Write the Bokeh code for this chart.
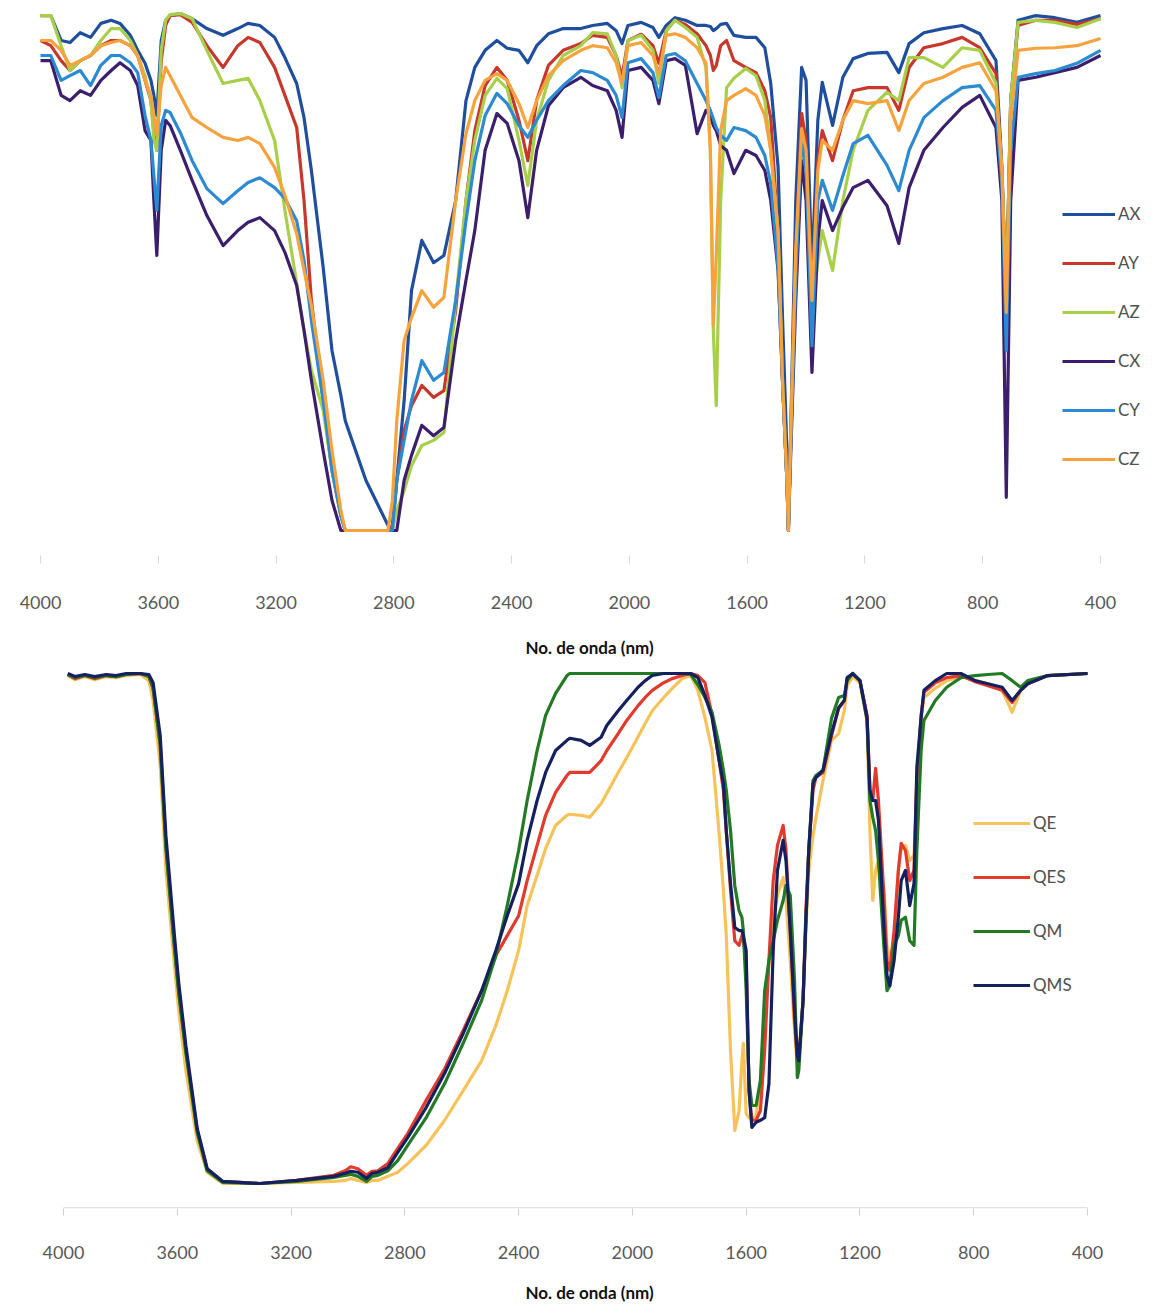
from bokeh.plotting import figure
from bokeh.layouts import column
from bokeh.models import Range1d, FixedTicker, Legend, LegendItem
from bokeh.embed import file_html
from bokeh.resources import INLINE

# ---------------- data: top panel (wavenumber, transmittance %) ----------------
top_wn = [4000, 3965, 3930, 3900, 3865, 3830, 3795, 3760, 3730, 3695,
          3670, 3645, 3625, 3615, 3605, 3590, 3575, 3560, 3525, 3485,
          3435, 3380, 3330, 3295, 3255, 3205, 3170, 3130, 3105, 3080,
          3040, 3010, 2980, 2965, 2895, 2820, 2805, 2790, 2765, 2740,
          2705, 2665, 2630, 2590, 2555, 2525, 2490, 2450, 2415, 2375,
          2345, 2315, 2275, 2225, 2165, 2125, 2075, 2045, 2025, 2005,
          1960, 1920, 1900, 1875, 1845, 1810, 1770, 1740, 1725, 1715,
          1705, 1690, 1670, 1645, 1605, 1570, 1540, 1520, 1495, 1480,
          1465, 1460, 1455, 1435, 1415, 1400, 1380, 1360, 1345, 1310,
          1275, 1240, 1190, 1125, 1085, 1050, 1000, 935, 870, 810,
          755, 735, 720, 705, 680, 620, 555, 480, 400]

AX = [99.4, 99.4, 94.6, 94.2, 96.1, 95.2, 97.9, 98.5, 97.9, 95.6,
      92.7, 90.2, 86.9, 84.0, 80.1, 94.6, 98.5, 99.4, 99.8, 98.8,
      96.9, 95.6, 96.9, 97.9, 97.5, 95.2, 91.3, 86.3, 79.7, 69.5,
      50.8, 34.7, 26.1, 21.2, 9.7, 1.0, 0.0, 9.7, 25.1, 46.3,
      56.0, 51.7, 53.1, 63.7, 83.0, 89.4, 92.7, 94.6, 93.1, 92.7,
      90.3, 93.6, 95.9, 96.9, 96.9, 97.5, 97.9, 96.5, 94.0, 97.5,
      98.1, 97.1, 95.2, 97.5, 99.0, 98.5, 97.5, 97.5, 97.3, 96.5,
      96.9, 97.7, 97.9, 95.6, 95.2, 95.2, 93.2, 86.3, 70.1, 41.1,
      15.4, 0.4, 11.6, 63.7, 89.4, 86.9, 50.2, 79.2, 86.5, 78.2,
      87.5, 91.1, 92.1, 92.3, 88.4, 94.0, 96.1, 96.9, 97.5, 95.9,
      90.7, 70.1, 44.4, 83.0, 98.5, 99.4, 99.0, 98.1, 99.4]

AY = [94.6, 93.6, 90.7, 88.8, 90.7, 91.7, 93.6, 94.6, 94.6, 93.6,
      91.7, 86.9, 83.0, 77.2, 73.4, 90.7, 97.5, 99.4, 99.6, 98.1,
      93.6, 89.4, 93.6, 95.2, 94.2, 89.4, 84.0, 77.8, 63.7, 44.4,
      25.1, 11.6, 2.9, 0.0, 0.0, 0.0, 1.0, 9.7, 19.3, 24.1,
      28.0, 25.7, 27.0, 42.5, 63.7, 77.2, 85.9, 89.4, 86.9, 79.2,
      71.4, 83.0, 89.8, 92.7, 94.0, 95.6, 95.2, 91.7, 87.5, 94.6,
      95.8, 93.6, 90.2, 96.5, 98.5, 97.7, 95.9, 93.6, 91.7, 88.8,
      89.8, 93.6, 94.6, 90.7, 89.4, 88.4, 84.9, 79.7, 57.3, 29.0,
      9.7, 0.0, 11.6, 54.1, 80.5, 75.3, 44.4, 71.4, 77.2, 71.4,
      79.2, 84.9, 85.5, 85.5, 81.1, 89.4, 93.2, 94.0, 95.2, 93.2,
      88.2, 69.5, 44.4, 83.0, 97.5, 98.5, 98.5, 97.7, 98.8]

AZ = [99.4, 99.4, 93.6, 88.8, 90.7, 91.7, 94.6, 96.9, 96.9, 94.6,
      91.7, 87.8, 83.0, 75.3, 73.4, 92.7, 98.5, 99.6, 99.8, 98.8,
      92.7, 86.3, 86.9, 87.3, 83.0, 75.3, 61.8, 47.7, 38.6, 30.9,
      23.2, 11.6, 2.9, 0.0, 0.0, 0.0, 0.0, 3.9, 7.7, 12.5,
      16.4, 17.4, 18.9, 44.4, 63.7, 75.3, 84.0, 87.3, 85.3, 75.3,
      66.6, 79.2, 86.9, 91.7, 93.6, 96.1, 95.9, 91.7, 85.5, 94.6,
      95.6, 92.7, 86.3, 96.5, 98.5, 97.1, 95.2, 89.4, 73.4, 38.6,
      24.1, 63.7, 85.5, 87.3, 89.2, 87.8, 83.0, 73.4, 57.9, 29.0,
      9.7, 0.0, 11.6, 52.1, 75.3, 69.5, 40.5, 52.1, 57.9, 50.2,
      63.7, 73.4, 81.1, 84.6, 83.0, 91.3, 91.3, 89.4, 93.2, 92.7,
      86.3, 69.5, 44.4, 83.0, 98.1, 98.5, 98.1, 97.1, 98.8]

CX = [90.7, 90.7, 84.0, 83.0, 84.9, 84.0, 86.9, 88.8, 90.3, 88.8,
      85.9, 77.2, 75.3, 63.7, 53.1, 73.4, 79.2, 78.2, 73.4, 67.6,
      60.8, 55.0, 57.9, 59.5, 60.4, 57.9, 53.7, 47.3, 38.6, 29.0,
      15.4, 5.8, 0.0, 0.0, 0.0, 0.0, 0.0, 0.0, 9.7, 14.5,
      20.3, 18.3, 19.9, 36.7, 48.3, 57.9, 73.4, 80.5, 78.6, 71.4,
      60.4, 73.4, 82.0, 85.5, 87.5, 85.9, 84.9, 81.1, 75.9, 88.8,
      89.4, 86.9, 82.4, 90.7, 91.1, 89.8, 76.6, 81.1, 80.1, 78.2,
      77.2, 74.3, 73.4, 68.9, 73.4, 72.4, 69.5, 63.7, 50.2, 29.0,
      9.7, 0.0, 9.7, 44.4, 71.4, 63.7, 30.5, 56.0, 63.7, 57.9,
      62.4, 66.2, 67.6, 62.7, 55.4, 66.2, 73.4, 77.8, 81.7, 84.0,
      77.8, 63.7, 6.4, 63.7, 86.9, 87.5, 88.4, 89.4, 91.7]

CY = [91.7, 91.7, 86.9, 87.8, 88.8, 85.9, 89.8, 91.7, 91.7, 90.3,
      88.4, 80.1, 75.3, 68.5, 61.8, 78.2, 81.1, 80.7, 76.8, 71.4,
      66.0, 63.1, 65.6, 67.2, 68.1, 66.2, 64.1, 59.8, 52.1, 40.5,
      25.1, 11.6, 2.9, 0.0, 0.0, 0.0, 0.0, 9.7, 17.4, 25.1,
      32.8, 29.0, 30.5, 44.4, 59.8, 71.4, 80.1, 84.4, 82.4, 78.2,
      75.9, 79.2, 83.0, 85.9, 88.8, 88.4, 86.9, 84.0, 79.7, 90.3,
      91.1, 88.4, 83.6, 91.7, 92.1, 90.7, 86.3, 83.0, 81.1, 79.5,
      77.8, 76.3, 75.3, 77.8, 77.2, 75.9, 72.4, 67.0, 50.8, 29.0,
      9.7, 0.0, 11.6, 48.3, 76.3, 69.5, 35.7, 63.7, 67.6, 61.8,
      68.5, 74.7, 76.3, 70.5, 65.6, 73.4, 79.7, 83.0, 85.5, 85.9,
      81.1, 67.0, 34.7, 73.4, 87.5, 88.2, 88.8, 90.2, 92.7]

CZ = [94.6, 94.6, 92.7, 89.8, 90.7, 91.7, 93.6, 94.2, 94.6, 93.6,
      91.7, 86.9, 84.0, 80.1, 76.3, 85.9, 89.4, 87.8, 84.0, 79.7,
      77.8, 75.9, 75.3, 75.9, 74.7, 70.1, 64.7, 57.3, 50.2, 43.4,
      29.0, 15.4, 3.9, 0.0, 0.0, 0.0, 5.8, 21.2, 36.7, 41.1,
      46.3, 43.1, 45.0, 63.7, 76.6, 83.0, 86.9, 88.2, 86.9, 82.4,
      77.8, 83.0, 87.8, 90.7, 92.7, 93.6, 93.2, 90.3, 86.3, 93.6,
      94.2, 91.7, 88.2, 95.6, 95.9, 95.2, 93.2, 90.2, 73.4, 39.6,
      53.1, 77.2, 83.0, 84.0, 85.3, 84.0, 80.1, 73.4, 57.3, 29.0,
      9.7, 0.0, 11.6, 54.1, 77.6, 73.4, 44.4, 69.5, 75.3, 73.4,
      79.2, 83.0, 82.4, 83.0, 77.2, 83.0, 86.3, 87.5, 89.4, 90.3,
      84.9, 69.5, 42.1, 79.2, 92.7, 93.1, 93.2, 93.6, 95.0]

# ---------------- data: bottom panel ----------------
bot_wn = [3985, 3960, 3925, 3890, 3850, 3815, 3780, 3730, 3700, 3685,
          3660, 3640, 3610, 3595, 3570, 3530, 3495, 3440, 3310, 3180,
          3050, 3010, 2990, 2965, 2935, 2915, 2895, 2860, 2825, 2790,
          2725, 2660, 2595, 2530, 2480, 2440, 2400, 2370, 2335, 2305,
          2270, 2230, 2220, 2180, 2150, 2110, 2090, 2050, 2020, 1980,
          1955, 1930, 1890, 1860, 1825, 1795, 1770, 1745, 1720, 1695,
          1680, 1670, 1655, 1640, 1625, 1615, 1610, 1600, 1590, 1580,
          1565, 1550, 1535, 1520, 1505, 1490, 1470, 1460, 1445, 1430,
          1420, 1415, 1400, 1390, 1380, 1365, 1355, 1330, 1300, 1275,
          1255, 1245, 1225, 1200, 1175, 1165, 1155, 1145, 1135, 1115,
          1105, 1095, 1080, 1065, 1055, 1040, 1025, 1010, 1000, 985,
          975, 935, 895, 845, 795, 750, 700, 665, 635, 610,
          540, 400]

QE = [99.6, 98.8, 99.4, 98.8, 99.4, 99.2, 99.6, 99.8, 98.6, 94.7,
      82.0, 61.4, 42.7, 33.9, 22.2, 8.4, 2.2, 0.0, 0.0, 0.2,
      0.4, 0.6, 1.0, 0.6, 0.2, 0.6, 0.6, 1.4, 2.2, 3.9,
      7.5, 12.4, 18.2, 24.1, 31.0, 37.8, 45.7, 54.5, 60.4, 65.7,
      70.2, 72.2, 72.4, 72.2, 71.8, 74.5, 76.5, 80.6, 83.5, 87.6,
      90.2, 92.7, 95.3, 97.1, 99.0, 99.6, 96.7, 91.4, 84.9, 68.6,
      57.5, 48.6, 26.1, 10.4, 14.3, 24.1, 27.5, 13.7, 12.9, 12.7,
      13.3, 20.2, 32.0, 43.7, 51.6, 56.5, 60.0, 55.5, 43.7, 30.0,
      23.1, 24.1, 35.9, 49.6, 61.4, 68.2, 71.6, 79.0, 86.9, 88.2,
      92.7, 97.6, 99.4, 98.2, 90.8, 69.2, 55.5, 61.4, 63.3, 57.5,
      46.7, 43.7, 47.6, 61.4, 65.7, 66.3, 63.3, 64.3, 79.0, 90.8,
      95.3, 97.1, 98.6, 99.4, 98.6, 98.0, 96.7, 92.4, 96.7, 98.0,
      99.6, 100.0]

QES = [99.8, 99.0, 99.6, 99.0, 99.6, 99.4, 99.8, 100.0, 99.4, 97.1,
       85.9, 66.3, 46.7, 37.8, 26.1, 10.4, 2.9, 0.4, 0.0, 0.6,
       1.6, 2.5, 3.3, 2.9, 1.6, 2.4, 2.5, 3.9, 6.9, 9.8,
       16.3, 22.5, 30.0, 37.8, 44.7, 48.6, 52.5, 59.4, 66.3, 72.2,
       76.7, 80.0, 80.6, 80.6, 80.6, 82.9, 84.9, 88.2, 90.8, 93.7,
       95.3, 96.7, 98.2, 99.0, 99.6, 100.0, 99.6, 98.2, 91.8, 82.9,
       77.1, 69.2, 57.5, 47.6, 46.7, 48.6, 47.6, 43.7, 18.2, 12.4,
       12.4, 14.3, 26.1, 43.7, 59.4, 66.3, 70.2, 65.3, 49.6, 32.0,
       24.1, 24.5, 35.9, 53.5, 65.3, 77.1, 79.6, 80.6, 87.8, 93.1,
       94.7, 99.0, 100.0, 98.6, 91.8, 77.1, 75.1, 81.4, 75.1, 55.5,
       43.7, 41.8, 49.6, 61.4, 66.7, 65.3, 59.4, 61.4, 79.0, 91.8,
       96.3, 98.2, 99.2, 99.6, 98.4, 97.6, 96.7, 94.3, 96.7, 98.0,
       99.6, 100.0]

QM = [99.8, 99.2, 99.6, 99.2, 99.6, 99.4, 99.8, 100.0, 99.4, 97.1,
      85.9, 65.7, 46.1, 37.3, 25.7, 10.0, 2.5, 0.2, 0.0, 0.4,
      1.2, 1.6, 1.8, 1.4, 0.4, 1.4, 1.6, 2.5, 4.5, 7.5,
      12.9, 19.6, 27.5, 35.9, 44.7, 54.5, 65.3, 75.1, 84.9, 91.8,
      96.1, 99.6, 100.0, 100.0, 100.0, 100.0, 100.0, 100.0, 100.0, 100.0,
      100.0, 100.0, 100.0, 100.0, 100.0, 99.8, 97.8, 95.3, 92.4, 85.9,
      81.0, 77.1, 69.2, 58.4, 53.5, 52.2, 49.6, 37.8, 20.2, 15.3,
      15.3, 20.2, 37.8, 43.7, 47.6, 51.6, 55.5, 58.4, 56.5, 39.8,
      20.8, 22.2, 35.9, 51.6, 65.3, 79.0, 80.0, 81.0, 91.2, 95.3,
      95.7, 98.6, 100.0, 98.6, 90.8, 75.1, 71.8, 69.2, 63.3, 45.7,
      37.8, 38.8, 46.7, 48.6, 51.6, 52.2, 47.6, 46.7, 65.3, 84.9,
      90.8, 94.7, 97.3, 99.2, 99.6, 99.8, 100.0, 98.6, 97.3, 98.6,
      99.6, 100.0]

QMS = [100.0, 99.4, 99.8, 99.4, 99.8, 99.6, 100.0, 100.0, 99.8, 98.2,
       87.8, 68.2, 48.6, 39.4, 27.1, 10.8, 2.9, 0.4, 0.0, 0.6,
       1.4, 2.0, 2.4, 2.2, 1.0, 2.0, 2.2, 3.1, 6.1, 9.0,
       14.9, 21.6, 29.4, 37.8, 45.7, 52.5, 58.8, 67.3, 75.1, 80.6,
       84.9, 86.9, 87.3, 86.9, 85.9, 87.5, 89.8, 92.7, 94.7, 97.3,
       98.6, 99.6, 100.0, 100.0, 100.0, 100.0, 99.2, 95.7, 91.4, 82.9,
       78.4, 69.2, 58.8, 50.2, 49.6, 49.6, 48.6, 45.7, 18.2, 11.0,
       12.0, 12.4, 12.9, 19.6, 45.7, 61.4, 67.3, 63.3, 49.6, 33.9,
       25.1, 24.1, 35.9, 51.6, 65.3, 78.4, 79.6, 81.0, 88.2, 93.3,
       94.7, 99.2, 100.0, 98.6, 91.4, 77.1, 75.1, 75.1, 71.2, 49.6,
       40.8, 38.8, 43.7, 52.2, 59.4, 61.4, 54.5, 58.8, 81.6, 91.4,
       96.7, 98.6, 100.0, 100.0, 98.6, 98.0, 97.3, 94.7, 96.7, 98.0,
       99.6, 100.0]

tick_values = [4000, 3600, 3200, 2800, 2400, 2000, 1600, 1200, 800, 400]
x_title = "No. de onda (nm)"

top_names = ["AX", "AY", "AZ", "CX", "CY", "CZ"]
top_colors = ["#1F4E9E", "#C6382C", "#A8CF4A", "#3C1F6C", "#2C8AD2", "#F6A33E"]
bot_names = ["QE", "QES", "QM", "QMS"]
bot_colors = ["#F8C25A", "#E23A2C", "#237A24", "#15215E"]

FONT = "Lato"


def style_axis(p, tick_color, tick_out, standoff, title_standoff):
    ax = p.xaxis[0]
    ax.ticker = FixedTicker(ticks=tick_values)
    ax.axis_line_color = None
    ax.major_tick_line_color = tick_color
    ax.major_tick_in = 0
    ax.major_tick_out = tick_out
    ax.minor_tick_line_color = None
    ax.major_label_text_font = FONT
    ax.major_label_text_font_size = "18px"
    ax.major_label_text_color = "#595959"
    ax.major_label_standoff = standoff
    ax.axis_label = x_title
    ax.axis_label_text_font = FONT
    ax.axis_label_text_font_style = "bold"
    ax.axis_label_text_font_size = "17px"
    ax.axis_label_text_color = "#111111"
    ax.axis_label_standoff = title_standoff
    p.yaxis.visible = False
    p.xgrid.visible = False
    p.ygrid.visible = False
    p.outline_line_color = None


def make_legend(items, loc, spacing, glyph_width):
    lg = Legend(items=items, location=loc)
    lg.border_line_color = None
    lg.background_fill_alpha = 0
    lg.padding = 0
    lg.margin = 0
    lg.spacing = spacing
    lg.glyph_width = glyph_width
    lg.glyph_height = 20
    lg.label_height = 20
    lg.label_standoff = 3
    lg.label_text_font = FONT
    lg.label_text_font_size = "17px"
    lg.label_text_color = "#505050"
    return lg


# ---------------- top figure ----------------
top_y = Range1d(-4.83, 102.32)
p1 = figure(width=1146, height=662, output_backend="svg", toolbar_location=None,
            x_range=Range1d(4027.2, 243.8), y_range=top_y,
            min_border_left=32, min_border_right=0, min_border_top=0,
            min_border_bottom=107)
style_axis(p1, "#d8d8d8", 8, 32, 25)
top_series = [AX, AY, AZ, CX, CY, CZ]
items1 = []
for name, col, ys in zip(top_names, top_colors, top_series):
    r = p1.line(top_wn, ys, line_color=col, line_width=3.2, line_join="round")
    items1.append(LegendItem(label=name, renderers=[r]))
p1.add_layout(make_legend(items1, (1030, 86), 28, 53))

# ---------------- bottom figure ----------------
bot_y = Range1d(-4.9, 101.57)
p2 = figure(width=1146, height=643, output_backend="svg", toolbar_location=None,
            x_range=Range1d(4109.0, 192.6), y_range=bot_y,
            min_border_left=32, min_border_right=0, min_border_top=3,
            min_border_bottom=97)
style_axis(p2, "#cfcfcf", 7, 30, 20)
# visible axis baseline spanning only the tick range
p2.segment(x0=[tick_values[0]], x1=[tick_values[-1]],
           y0=[bot_y.start + 0.12], y1=[bot_y.start + 0.12],
           line_color="#d9d9d9", line_width=1.2)
bot_series = [QE, QES, QM, QMS]
items2 = []
for name, col, ys in zip(bot_names, bot_colors, bot_series):
    r = p2.line(bot_wn, ys, line_color=col, line_width=3.2, line_join="round")
    items2.append(LegendItem(label=name, renderers=[r]))
p2.add_layout(make_legend(items2, (941, 213), 33, 57))

layout = column(p1, p2, spacing=0)
open("out.html", "w").write(file_html(layout, INLINE))
